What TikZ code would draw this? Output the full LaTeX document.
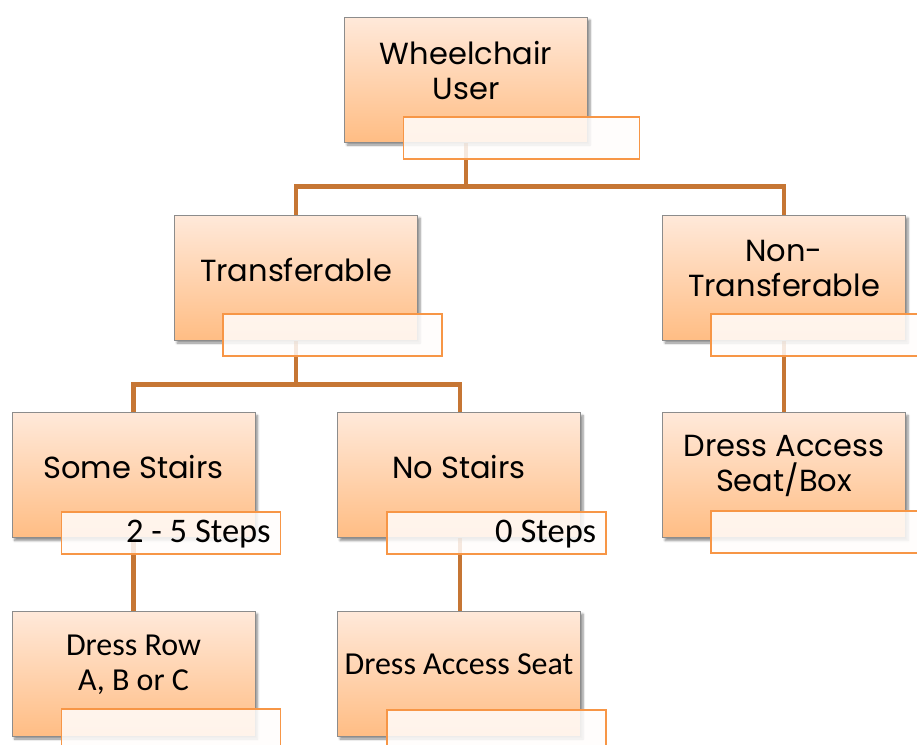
\documentclass[tikz,border=0pt]{standalone}
\usepackage{fontspec}
\setmainfont{Poppins}
\newfontfamily\carlitofont{Carlito}
\usetikzlibrary{shadows,shadows.blur}
\definecolor{conncol}{HTML}{C67634}
\definecolor{lblborder}{HTML}{F79646}
\definecolor{boxtop}{HTML}{FFE9DA}
\definecolor{boxbot}{HTML}{FFBD84}
\definecolor{boxedge}{HTML}{8C8C8C}
\pgfdeclarelayer{background}
\pgfsetlayers{background,main}
\tikzset{
  mainbox/.style={draw=boxedge, line width=0.8pt, top color=boxtop, bottom color=boxbot,
    minimum width=243pt, minimum height=125pt, inner sep=0pt,
    blur shadow={shadow xshift=2.5pt, shadow yshift=-3pt, shadow opacity=45, shadow blur steps=6}},
  lblbox/.style={draw=lblborder, line width=1.6pt, fill=white!92!boxtop, fill opacity=0.85, text opacity=1,
    minimum width=219pt, minimum height=42pt, inner sep=0pt, anchor=north west},
  geotext/.style={font=\fontsize{30.5}{35}\selectfont, align=center, text=black},
  caltext/.style={font=\carlitofont\fontsize{32}{35}\selectfont, align=center, text=black},
  steptext/.style={font=\carlitofont\fontsize{34.5}{35}\selectfont, anchor=east, text=black},
  conn/.style={draw=conncol, line width=4.5pt}
}
\begin{document}
\begin{tikzpicture}[x=1pt,y=-1pt]
\useasboundingbox (0,0) rectangle (917,744);
% main boxes
\node[mainbox] (wu) at (466,79.5) {};
\node[mainbox] (tr) at (296,277.5) {};
\node[mainbox] (nt) at (784,277.5) {};
\node[mainbox] (ss) at (133.5,475) {};
\node[mainbox] (ns) at (459,475) {};
\node[mainbox] (da) at (784,475) {};
\node[mainbox] (dr) at (133.5,673.5) {};
\node[mainbox] (ds) at (459,673.5) {};
% texts
\node[geotext] (wut) at ([yshift=9pt]wu.center) {Wheelchair\\User};
\node[geotext] (trt) at ([yshift=8pt]tr.center) {Transferable};
\node[geotext] (ntt) at ([yshift=9pt]nt.center) {Non-\\Transferable};
\node[geotext] (sst) at ([yshift=8pt]ss.center) {Some Stairs};
\node[geotext] (nst) at ([yshift=8pt]ns.center) {No Stairs};
\node[geotext] (dat) at ([yshift=9pt]da.center) {Dress Access\\Seat/Box};
\node[caltext] (drt) at ([yshift=9pt]dr.center) {Dress Row\\A, B or C};
\node[caltext] (dst) at ([yshift=9pt]ds.center) {Dress Access Seat};
% label boxes
\node[lblbox, minimum width=236pt] (wul) at ([xshift=58.5pt,yshift=26pt]wu.south west) {};
\node[lblbox] (trl) at ([xshift=48pt,yshift=27pt]tr.south west) {};
\node[lblbox] (ntl) at ([xshift=48pt,yshift=27pt]nt.south west) {};
\node[lblbox] (ssl) at ([xshift=49pt,yshift=27pt]ss.south west) {};
\node[lblbox] (nsl) at ([xshift=49pt,yshift=27pt]ns.south west) {};
\node[lblbox] (dal) at ([xshift=48pt,yshift=28pt]da.south west) {};
\node[lblbox] (drl) at ([xshift=49pt,yshift=28pt]dr.south west) {};
\node[lblbox] (dsl) at ([xshift=49pt,yshift=27pt]ds.south west) {};
\node[steptext] (sslt) at ([xshift=-7pt,yshift=-1pt]ssl.east) {2 - 5 Steps};
\node[steptext] (nslt) at ([xshift=-7pt,yshift=-1pt]nsl.east) {0 Steps};
% connectors
\begin{pgfonlayer}{background}
\draw[conn] (wu.south) -- ++(0,44) -| (tr.north);
\draw[conn] (wu.south) -- ++(0,44) -| (nt.north);
\draw[conn] (tr.south) -- ++(0,44) -| (ss.north);
\draw[conn] (tr.south) -- ++(0,44) -| ([xshift=1pt]ns.north);
\draw[conn] (nt.south) -- (da.north);
\draw[conn] (ss.south) -- (dr.north);
\draw[conn] ([xshift=1pt]ns.south) -- ([xshift=1pt]ds.north);
\end{pgfonlayer}
\end{tikzpicture}
\end{document}
